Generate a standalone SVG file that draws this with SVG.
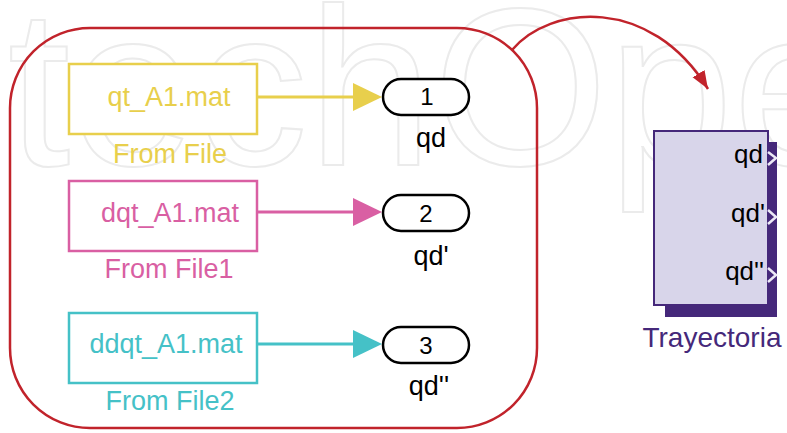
<svg xmlns="http://www.w3.org/2000/svg" width="787" height="433" viewBox="0 0 787 433">
<defs>
<style>
.wm{font-family:"Liberation Sans",Arial,sans-serif;font-size:225px;fill:none;stroke:#ebebeb;stroke-width:2}
.t{font-family:"Liberation Sans",Arial,sans-serif}
.blk{fill:#fff;stroke-width:2.5}
.port{fill:#fff;stroke:#000;stroke-width:2.5}
.num{font-size:24px;fill:#000;text-anchor:middle}
.lbl{font-size:27px;fill:#000;text-anchor:middle}
.ftxt{font-size:27px;text-anchor:middle}
.chev{fill:none;stroke:#ece9f6;stroke-width:2.5}
</style>
<marker id="ay" markerUnits="userSpaceOnUse" markerWidth="30" markerHeight="30" refX="1" refY="14" orient="auto"><path d="M0,0 L29,14 L0,28 z" fill="#e8cf4c"/></marker>
<marker id="ap" markerUnits="userSpaceOnUse" markerWidth="30" markerHeight="30" refX="1" refY="14" orient="auto"><path d="M0,0 L29,14 L0,28 z" fill="#d95fa3"/></marker>
<marker id="ac" markerUnits="userSpaceOnUse" markerWidth="30" markerHeight="30" refX="1" refY="14" orient="auto"><path d="M0,0 L29,14 L0,28 z" fill="#45c1c7"/></marker>
<marker id="ar" markerUnits="userSpaceOnUse" markerWidth="20" markerHeight="16" refX="18" refY="7" orient="auto"><path d="M0,0 L18,7 L0,14 z" fill="#c1232b"/></marker>
</defs>
<rect width="787" height="433" fill="#fff"/>
<text class="wm" x="-180" y="165">IntechOpen</text>

<g id="subsystem">
<rect x="10" y="28" width="527" height="400" rx="80" ry="80" fill="none" stroke="#c1232b" stroke-width="2.5"/>
</g>

<g id="fromfile">
<rect class="blk" x="69" y="64" width="188" height="70" stroke="#e8cf4c"/>
<text class="t ftxt" x="169" y="106" fill="#e8cf4c">qt_A1.mat</text>
<text class="t ftxt" x="170" y="163" fill="#e8cf4c">From File</text>
</g>
<g id="fromfile1">
<rect class="blk" x="69" y="181" width="188" height="70" stroke="#d95fa3"/>
<text class="t ftxt" x="170" y="222" fill="#d95fa3">dqt_A1.mat</text>
<text class="t ftxt" x="169" y="278" fill="#d95fa3">From File1</text>
</g>
<g id="fromfile2">
<rect class="blk" x="69" y="313" width="188" height="70" stroke="#45c1c7"/>
<text class="t ftxt" x="166" y="353" fill="#45c1c7">ddqt_A1.mat</text>
<text class="t ftxt" x="170" y="410" fill="#45c1c7">From File2</text>
</g>

<g id="out1">
<rect class="port" x="383" y="79" width="86" height="36" rx="18"/>
<text class="t num" x="427" y="105">1</text>
<text class="t lbl" x="431" y="147">qd</text>
</g>
<g id="out2">
<rect class="port" x="383" y="195" width="86" height="36" rx="18"/>
<text class="t num" x="426" y="222">2</text>
<text class="t lbl" x="431" y="265">qd'</text>
</g>
<g id="out3">
<rect class="port" x="383" y="327" width="86" height="36" rx="18"/>
<text class="t num" x="426" y="354">3</text>
<text class="t lbl" x="429" y="395">qd''</text>
</g>

<g id="trayectoria">
<rect x="665" y="142" width="112" height="175" fill="#45287a"/>
<rect x="654" y="131" width="114" height="174" fill="#d8d5ea" stroke="#45287a" stroke-width="2"/>
<text class="t" x="763" y="163" font-size="26" text-anchor="end" fill="#000">qd</text>
<text class="t" x="765" y="222" font-size="26" text-anchor="end" fill="#000">qd'</text>
<text class="t" x="764" y="280" font-size="26" text-anchor="end" fill="#000">qd''</text>
<polyline class="chev" points="768,152 776,158 768,165"/>
<polyline class="chev" points="768,210 776,217 768,224"/>
<polyline class="chev" points="768,268 776,275 768,282"/>
<text class="t" x="712" y="347" font-size="28" text-anchor="middle" fill="#45287a">Trayectoria</text>
</g>

<g id="connectors">
<line x1="257" y1="97" x2="354" y2="97" stroke="#e8cf4c" stroke-width="3" marker-end="url(#ay)"/>
<line x1="257" y1="212" x2="354" y2="212" stroke="#d95fa3" stroke-width="3" marker-end="url(#ap)"/>
<line x1="257" y1="344" x2="354" y2="344" stroke="#45c1c7" stroke-width="3" marker-end="url(#ac)"/>
<path d="M512,50 C550,5 650,-5 708,89" fill="none" stroke="#c1232b" stroke-width="2.5" marker-end="url(#ar)"/>
</g>
</svg>
